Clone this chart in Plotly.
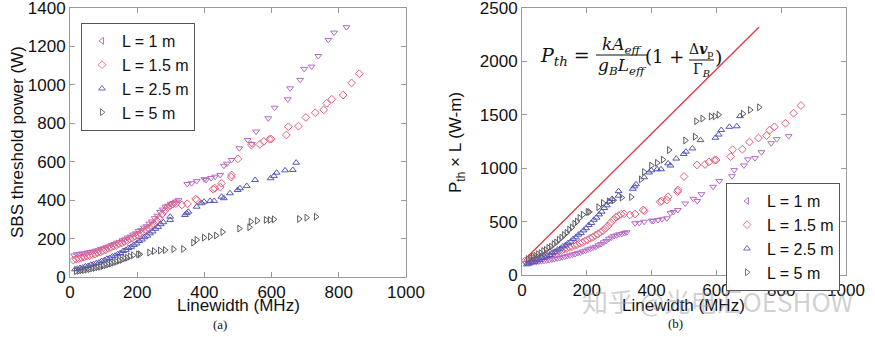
import plotly.graph_objects as go

# ---------------- SBS threshold power vs. linewidth (panel a) ----------------
# L = 1 m
lw_1m = [12, 20, 28, 36, 44, 52, 60, 68, 76, 84, 92, 100, 108, 116, 124, 132, 140, 148,
         156, 164, 172, 180, 188, 196, 204, 212, 220, 228, 236, 244, 252, 260, 268, 276,
         284, 292, 300, 308, 316,
         323, 349, 362, 377, 400, 405, 420, 432, 447, 458, 467, 481, 504, 529, 541, 554,
         590, 609, 648, 655, 685, 697, 719, 739, 769, 786, 823]
pth_1m = [112, 118, 119, 123, 122, 127, 130, 132, 137, 139, 146, 149, 155, 159, 167, 171, 179, 183,
          191, 196, 205, 210, 221, 227, 239, 245, 257, 264, 278, 289, 306, 319, 339, 351,
          366, 371, 381, 385, 393,
          400, 484, 488, 499, 509, 505, 515, 522, 531, 579, 590, 609, 670, 713, 692, 757,
          826, 881, 925, 982, 1026, 1083, 1095, 1150, 1234, 1272, 1300]

# L = 1.5 m
lw_15m = [10, 18, 26, 34, 42, 50, 58, 66, 74, 82, 90, 98, 106, 114, 122, 130, 138, 146,
          154, 162, 170, 178, 186, 194, 202, 210, 218, 226, 234, 242, 250, 258, 266, 274,
          282, 290, 298, 306,
          315, 333, 349, 374, 378, 426, 431, 447, 451, 480, 481, 500, 540, 565, 577, 594,
          599, 644, 650, 680, 702, 730, 755, 764, 779, 813, 838, 861]
pth_15m = [88, 93, 95, 101, 103, 109, 111, 117, 119, 126, 129, 137, 141, 149, 153, 161, 165, 173,
           177, 185, 189, 198, 203, 213, 219, 229, 236, 247, 255, 267, 277, 293, 307, 327,
           344, 361, 371, 379,
           382, 375, 381, 406, 400, 457, 462, 468, 488, 520, 531, 615, 687, 690, 706, 717,
           718, 739, 782, 785, 830, 855, 870, 904, 925, 947, 1010, 1058]

# L = 2.5 m
lw_25m = [15, 22, 30, 38, 46, 54, 62, 70, 78, 86, 94, 102, 110, 118, 126, 134, 142, 150,
          158, 166, 174, 182, 190, 198, 206, 214, 222, 230, 238, 246, 254, 262, 270, 278,
          298, 298, 342, 347, 352, 377, 392, 399, 417, 429, 451, 458, 476, 499, 506, 526,
          551, 597, 607, 615, 640, 663, 673]
pth_25m = [40, 43, 47, 49, 55, 57, 64, 66, 72, 75, 83, 87, 95, 99, 107, 111, 119, 125,
           135, 141, 151, 157, 167, 175, 187, 195, 207, 215, 227, 237, 251, 261, 275, 285,
           297, 314, 323, 332, 340, 366, 384, 392, 396, 396, 418, 410, 436, 453, 462, 474,
           505, 514, 526, 543, 555, 557, 595]

# L = 5 m
lw_5m = [18, 26, 34, 42, 50, 58, 66, 74, 82, 90, 98, 106, 114, 122, 130, 138, 146, 154,
         162, 170, 178,
         188, 203, 208, 236, 250, 268, 283, 308, 337, 367, 377, 399, 417, 435, 454, 504,
         534, 538, 557, 583, 595, 607, 682, 704, 732]
pth_5m = [30, 32, 35, 36, 39, 41, 45, 47, 51, 53, 58, 61, 66, 70, 75, 79, 85, 89,
          96, 100, 107,
          113, 118, 118, 127, 135, 138, 140, 145, 146, 179, 193, 205, 210, 216, 234, 252,
          259, 288, 293, 297, 297, 300, 302, 309, 314]

lengths = [1, 1.5, 2.5, 5]
names = ["L = 1 m", "L = 1.5 m", "L = 2.5 m", "L = 5 m"]
series_x = [lw_1m, lw_15m, lw_25m, lw_5m]
series_y = [pth_1m, pth_15m, pth_25m, pth_5m]

# theory line for panel b (P_th x L vs linewidth)
theory_x = [15, 731]
theory_y = [165, 2320]

data_symbols = ["triangle-down-open", "diamond-open", "triangle-up-open", "triangle-right-open"]
legend_symbols = ["triangle-left-open", "diamond-open", "triangle-up-open", "triangle-right-open"]
colors = ["#b46ac4", "#e4607c", "#5454bc", "#5c5c64"]
legend_colors = ["#b878c8", "#e87888", "#6a6ac4", "#74747c"]

W, H = 875, 337
AXIS_COLOR = "#9a9a9a"
TICK_FONT = dict(family="Arial, Liberation Sans, sans-serif", size=17, color="#111")


def px(xp):
    return xp / W


def py(yp):
    return 1 - yp / H


fig = go.Figure()

for i in range(4):
    # panel a
    fig.add_trace(go.Scatter(
        x=series_x[i], y=series_y[i], mode="markers", xaxis="x", yaxis="y",
        marker=dict(symbol=data_symbols[i], size=6, color=colors[i], line=dict(width=1)),
        showlegend=False))
    # panel b: threshold times fibre length
    fig.add_trace(go.Scatter(
        x=series_x[i], y=[v * lengths[i] for v in series_y[i]], mode="markers",
        xaxis="x2", yaxis="y2",
        marker=dict(symbol=data_symbols[i], size=6, color=colors[i], line=dict(width=1)),
        showlegend=False))

# legend entries
for i in range(4):
    for leg, xa, ya in (("legend", "x", "y"), ("legend2", "x2", "y2")):
        fig.add_trace(go.Scatter(
            x=[None], y=[None], mode="markers", xaxis=xa, yaxis=ya, name=names[i],
            marker=dict(symbol=legend_symbols[i], size=6, color=legend_colors[i],
                        line=dict(width=1)),
            legend=leg, showlegend=True))

fig.add_trace(go.Scatter(x=theory_x, y=theory_y, mode="lines", xaxis="x2", yaxis="y2",
                         line=dict(color="#e0383c", width=1.3), showlegend=False))

axis_common = dict(showline=True, linecolor=AXIS_COLOR, linewidth=1, mirror="ticks",
                   ticks="inside", ticklen=5, tickcolor=AXIS_COLOR, showgrid=False,
                   zeroline=False, tickfont=TICK_FONT, automargin=False,
                   ticklabeloverflow="allow")

legend_common = dict(bgcolor="white", bordercolor="#555", borderwidth=1,
                     font=dict(family="Arial, Liberation Sans, sans-serif", size=16,
                               color="#111"),
                     yanchor="top", tracegroupgap=0, itemwidth=30)

fig.update_layout(
    width=W, height=H, margin=dict(l=0, r=0, t=0, b=0, autoexpand=False),
    paper_bgcolor="white", plot_bgcolor="white",
    xaxis=dict(domain=[px(70), px(406)], range=[0, 1000], tickvals=[0, 200, 400, 600, 800, 1000],
               anchor="y", **axis_common),
    yaxis=dict(domain=[py(277), py(8)], range=[0, 1400],
               tickvals=[0, 200, 400, 600, 800, 1000, 1200, 1400], anchor="x", **axis_common),
    xaxis2=dict(domain=[px(522), px(846)], range=[0, 1000],
                tickvals=[0, 200, 400, 600, 800, 1000], anchor="y2", **axis_common),
    yaxis2=dict(domain=[py(275), py(8)], range=[0, 2500],
                tickvals=[0, 500, 1000, 1500, 2000, 2500], anchor="x2", **axis_common),
    legend=dict(x=px(81), y=py(23), xanchor="left", **legend_common),
    legend2=dict(x=px(840), y=py(183), xanchor="right", **legend_common),
)

label_font = dict(family="Arial, Liberation Sans, sans-serif", size=17, color="#111")
annotations = [
    dict(x=px(17), y=py(142), text="SBS threshold power (W)", textangle=-90, font=label_font),
    dict(x=px(238), y=py(305), text="Linewidth (MHz)", font=label_font),
    dict(x=px(457), y=py(142), text="P<sub>th</sub> × L (W-m)", textangle=-90, font=label_font),
    dict(x=px(683), y=py(305), text="Linewidth (MHz)", font=label_font),
    dict(x=px(220), y=py(324), text="(a)",
         font=dict(family="Liberation Serif, serif", size=13, color="#111")),
    dict(x=px(675), y=py(323), text="(b)",
         font=dict(family="Liberation Serif, serif", size=13, color="#111")),
]

# threshold formula
math_font = dict(family="DejaVu Serif, serif", size=19, color="#111")
frac_font = dict(family="DejaVu Serif, serif", size=17, color="#111")
small_math = dict(family="DejaVu Serif, serif", size=14, color="#111")
annotations += [
    dict(x=px(565), y=py(57), text="<i>P<sub>th</sub></i> =", font=math_font),
    dict(x=px(622), y=py(45), text="<i>kA<sub>eff</sub></i>", font=frac_font),
    dict(x=px(622), y=py(66), text="<i>g<sub>B</sub>L<sub>eff</sub></i>", font=frac_font),
    dict(x=px(686), y=py(57), text="(1 +", font=dict(math_font, size=18), xanchor="right"),
    dict(x=px(701), y=py(50), text="Δ<b><i>v</i></b><sub>p</sub>", font=small_math),
    dict(x=px(701), y=py(70), text="Γ<sub><i>B</i></sub>", font=small_math),
    dict(x=px(718), y=py(57), text=")", font=math_font),
]

# watermark
annotations.append(dict(x=px(718), y=py(300), text="知乎 @光电汇OESHOW",
                        font=dict(family="Noto Sans CJK SC, sans-serif", size=26,
                                  color="rgba(150,150,150,0.45)")))

for a in annotations:
    a.setdefault("xanchor", "center")
    a.update(xref="paper", yref="paper", showarrow=False, yanchor="middle")
fig.update_layout(annotations=annotations)

fig.update_layout(shapes=[
    dict(type="line", xref="paper", yref="paper", x0=px(596), x1=px(648), y0=py(55), y1=py(55),
         line=dict(color="#111", width=1)),
    dict(type="line", xref="paper", yref="paper", x0=px(689), x1=px(714), y0=py(60), y1=py(60),
         line=dict(color="#111", width=1)),
])

fig.write_html("out.html")
